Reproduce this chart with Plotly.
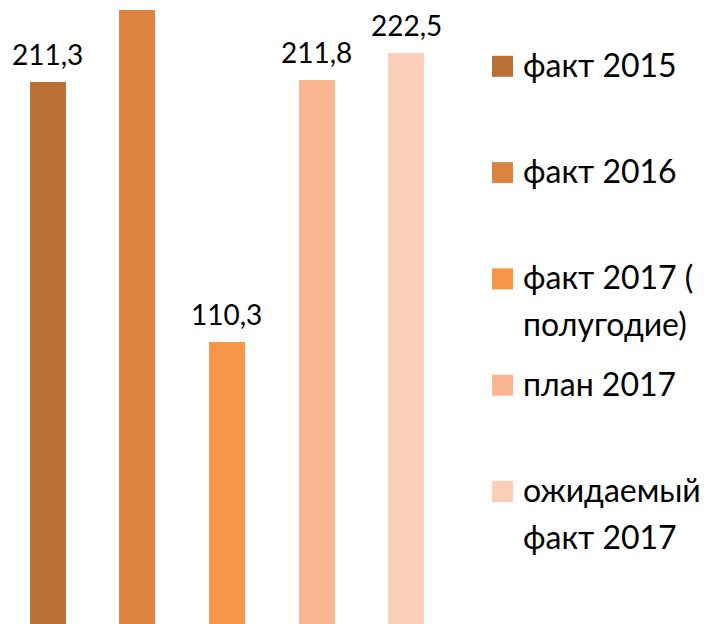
import plotly.graph_objects as go

# ---- data ----
series_names = ["факт 2015", "факт 2016", "факт 2017 (\nполугодие)", "план 2017", "ожидаемый\nфакт 2017"]
values = [211.3, 239.2, 110.3, 211.8, 222.5]
value_labels = ["211,3", "", "110,3", "211,8", "222,5"]
colors = ["#BA7034", "#DC833F", "#F79646", "#F9B691", "#FBCEB9"]

# page body has an 8px margin; the figure is sized/placed to compensate
OFF = 8
W, H = 718 - OFF, 624 - OFF
ML, MR, MT, MB = 0, 267, 0, 0
PW, PH = W - ML - MR, H - MT - MB
FONT = "Lato"
FS_LABEL = 28
FS_LEGEND = 32


def px_x(px):
    return (px - OFF - ML) / PW


def px_y(py):
    return 1 - (py - OFF - MT) / PH


fig = go.Figure()
fig.add_trace(go.Bar(
    x=list(range(len(values))), y=values,
    marker=dict(color=colors, line=dict(width=0)),
    width=0.402, showlegend=False, hoverinfo="skip",
))

annotations = []
for i, (v, lab) in enumerate(zip(values, value_labels)):
    if lab:
        annotations.append(dict(
            x=i, y=v, xref="x", yref="y", text=lab, showarrow=False,
            yanchor="bottom", xanchor="center", yshift=10, borderpad=0,
            font=dict(family=FONT, size=FS_LABEL, color="#000000"),
        ))

shapes = []
item_y0 = 66.3
item_step = 106.3
line_step = 47
for k, (name, col) in enumerate(zip(series_names, colors)):
    cy = item_y0 + k * item_step
    shapes.append(dict(
        type="rect", xref="paper", yref="paper",
        x0=px_x(492), x1=px_x(513), y0=px_y(cy - 10.5), y1=px_y(cy + 10.5),
        fillcolor=col, line=dict(width=0),
    ))
    for j, line in enumerate(name.split("\n")):
        annotations.append(dict(
            x=px_x(521), y=px_y(cy - 2 + j * line_step), xref="paper", yref="paper",
            text=line, showarrow=False, xanchor="left", yanchor="middle",
            font=dict(family=FONT, size=FS_LEGEND, color="#000000"),
        ))

fig.update_layout(
    width=W, height=H,
    margin=dict(l=ML, r=MR, t=MT, b=MB),
    paper_bgcolor="white", plot_bgcolor="white",
    xaxis=dict(range=[-0.444, 4.5], visible=False),
    yaxis=dict(range=[0.62, 239.94], visible=False),
    annotations=annotations, shapes=shapes,
    showlegend=False, bargap=0,
)

fig.write_html("out.html")
